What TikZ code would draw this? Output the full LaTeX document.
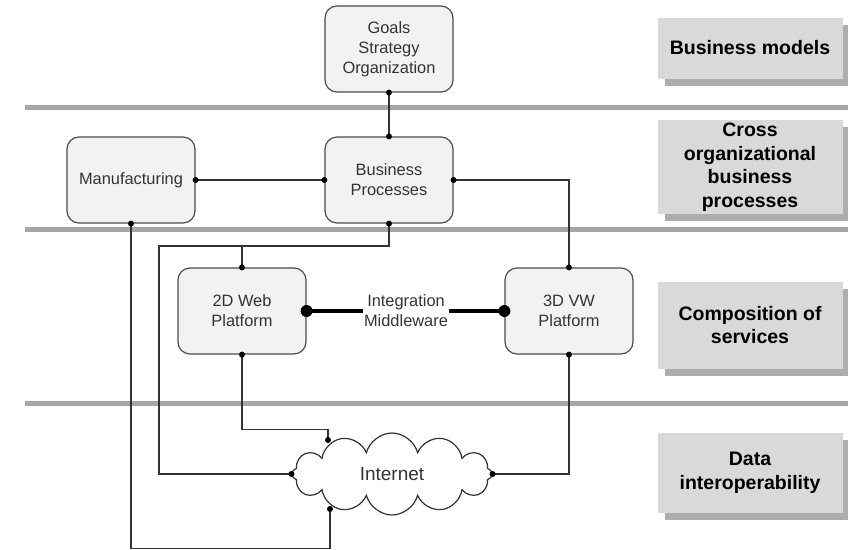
\documentclass[tikz,border=0pt]{standalone}
\usepackage{fontspec}
\setmainfont{Liberation Sans}
\usetikzlibrary{shapes.symbols,shadows}
\tikzset{box/.style={draw=black!70,fill=black!5,rounded corners=12pt,line width=1.2pt,
   minimum width=128pt,minimum height=86pt,align=center,text=black!80,
   font=\fontsize{16.4}{20}\selectfont},
 layer/.style={fill=black!15,minimum width=185pt,align=center,
   font=\fontsize{19.5}{23.5}\selectfont\bfseries,
   drop shadow={shadow xshift=7pt,shadow yshift=-7pt,fill=black!32,opacity=1}},
 bar/.style={draw=black!35,line width=5pt},
 wire/.style={draw=black!80,line width=1.2pt},
 thickwire/.style={draw=black,line width=4pt},
 }

\begin{document}
\begin{tikzpicture}[x=1pt,y=-1pt]
        \useasboundingbox (0,0) rectangle (848,549);
        \foreach \y in {107,229,403} {
            \draw[bar] (25,\y) -- (848,\y);
        }

        \node[box] (goals) at (389,49) {Goals\\Strategy\\Organization};
        \node[box] (bp) at (389,180) {Business\\Processes};
        \node[box] (manu) at (131,180) {Manufacturing};
        \node[box] (web) at (242,311) {2D Web\\Platform};
        \node[box] (vw) at (569,311) {3D VW\\Platform};
        \node[align=center,inner sep=1pt,text=black!80,font=\fontsize{16.4}{20}\selectfont] (mw) at (406,311) {Integration\\Middleware};
        \node[cloud,draw=black!80,line width=1.2pt,fill=white,cloud puffs=12,aspect=2.4,
              minimum width=200pt,minimum height=82pt,text=black!80,
              font=\fontsize{19}{22}\selectfont] (inet) at (392,474) {Internet};
        \coordinate (inN) at (328,440);
        \coordinate (inS) at (330,509);
        \coordinate (bpturn) at (159,246);

        \node[layer,minimum height=61pt] (lbm) at (750,48) {Business models};
        \node[layer,minimum height=90pt] (lcross) at (750,167) {Cross\\organizational\\business\\processes};
        \node[layer,minimum height=87pt] (lcomp) at (750,325) {Composition of\\services};
        \node[layer,minimum height=80pt] (ldata) at (750,473) {Data\\interoperability};

        \draw[wire] (goals) -- (bp);
        \draw[wire] (manu) -- (bp);
        \draw[wire] (bp.east) -| (vw.north);
        \draw[wire] (bp.south) |- (bpturn) |- (inet.west);
        \draw[wire] (web.north) -- (web.north |- bpturn);
        \draw[wire] (manu.south) -- ++(0,325) -| (inS);
        \draw[wire] (web.south) -- ++(0,75) -| (inN);
        \draw[wire] (inet.east) -| (vw.south);
        \draw[thickwire] (web.east) -- (mw.west);
        \draw[thickwire] (mw.east) -- (vw.west);

        \foreach \p in {goals.south,bp.north,manu.east,bp.west,bp.east,vw.north,bp.south,web.north,
                        manu.south,web.south,inet.west,inet.east,vw.south,inN,inS} {
            \fill (\p) circle (3pt);
        }
        \foreach \p in {web.east,vw.west} {
            \fill (\p) circle (6pt);
        }
    \end{tikzpicture}
\end{document}
